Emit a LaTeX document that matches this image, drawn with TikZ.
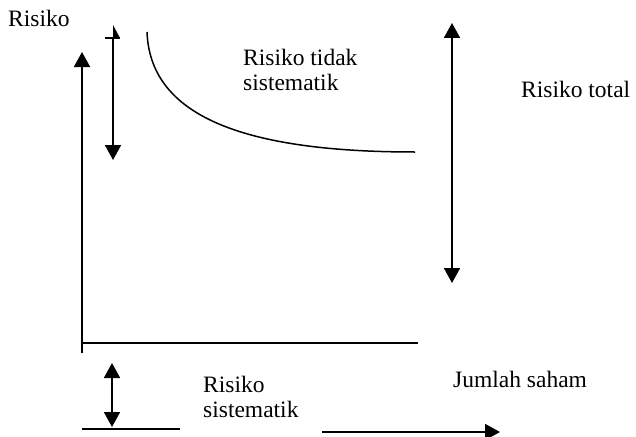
\documentclass[tikz,border=0pt]{standalone}
\usepackage{fontspec}
\setmainfont{Liberation Serif}
\usetikzlibrary{arrows.meta}
\begin{document}
\begin{tikzpicture}[x=1pt,y=-1pt,
  lbl/.style={anchor=base west,inner sep=0pt,font=\fontsize{23.5}{25}\selectfont,align=left},
  ln/.style={line width=1.8pt},
  tip/.style={-{Triangle[length=15pt,width=16pt]}},
  tips/.style={{Triangle[length=15pt,width=16pt]}-{Triangle[length=15pt,width=16pt]}}]
\useasboundingbox (0,0) rectangle (636,436);
% texts
\node[lbl] (ry) at (8,27) {Risiko};
\node[lbl] (rt) at (243,90) {Risiko tidak\\sistematik};
\node[lbl] (rtot) at (521,97) {Risiko total};
\node[lbl] (js) at (453,387) {Jumlah saham};
\node[lbl] (rs) at (203,417) {Risiko\\sistematik};
% axes
\coordinate (o) at (82,343);
\coordinate (ytop) at (82,52);
\coordinate (ybot) at (82,353);
\coordinate (xend) at (418,343);
\draw[ln] (ybot) -- (o);
\draw[ln,tip] (o) -- (ytop);
\draw[ln] (o) -- (xend);
% short double arrow near y axis
\coordinate (a1) at (113,38);
\coordinate (a2) at (113,160);
\draw[ln,tip] (a1) -- (a2);
\draw[ln] (105,38) -- (120,38);
\fill (113,25) -- (120,38) -- (113,38) -- cycle;
% curve
\coordinate (c0) at (147,32);
\coordinate (c1) at (415,152);
\draw[line width=1.5pt] (c0) .. controls (150,110) and (230,152) .. (c1);
% total risk arrow
\coordinate (t1) at (452,23);
\coordinate (t2) at (452,283);
\draw[ln,tips] (t1) -- (t2);
% systematic risk
\coordinate (s1) at (112,363);
\coordinate (s2) at (112,427);
\draw[ln,tips] (s1) -- (s2);
\coordinate (b1) at (82,429);
\coordinate (b2) at (180,429);
\draw[ln] (b1) -- (b2);
\coordinate (h1) at (322,432);
\coordinate (h2) at (500,432);
\draw[ln,tip] (h1) -- (h2);
\end{tikzpicture}
\end{document}
